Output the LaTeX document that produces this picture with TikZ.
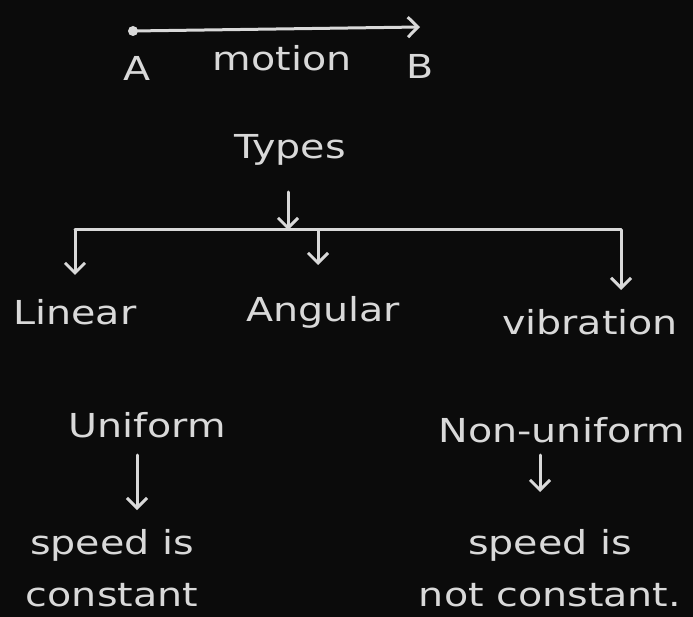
\documentclass[tikz,border=0pt]{standalone}
\usepackage{fontspec}
\newfontfamily\hand[FakeStretch=1.2]{DejaVu Sans}
\usetikzlibrary{arrows.meta}
\definecolor{bgc}{HTML}{0B0B0B}
\definecolor{chalkc}{HTML}{D9D9D9}
\begin{document}
\begin{tikzpicture}[x=1pt,y=-1pt,
  chalk/.style={draw=chalkc, line width=3pt, line cap=round},
  arr/.style={chalk, -{Straight Barb[length=10pt,width=20pt,line width=3pt]}},
  lbl/.style={text=chalkc, font=\hand\fontsize{33}{52}\selectfont, inner sep=1pt, align=center}]
\fill[bgc] (0,0) rectangle (693,617);
\useasboundingbox (0,0) rectangle (693,617);
% top arrow A -> B
\coordinate (a0) at (133,31);
\coordinate (b0) at (420,27);
\fill[chalkc] (a0) circle (5pt);
\draw[arr] (a0) -- (b0);
\node[lbl] (la) at (137,68) {A};
\node[lbl] (motion) at (282,58) {motion};
\node[lbl] (lb) at (420,66) {B};
% types
\node[lbl] (types) at (290,150) {Types};
\coordinate (barL) at (75,230);
\coordinate (barT) at (288,230);
\coordinate (barA) at (318,230);
\coordinate (barR) at (621,230);
\coordinate (tA) at (288,192);
\draw[arr] (tA) -- (barT);
\draw[chalk] (barL) -- (barR);
\node[lbl] (linear) at (75,312) {Linear};
\node[lbl] (angular) at (323,312) {Angular};
\node[lbl] (vib) at (590,322) {vibration};
\coordinate (lE) at (75,275);
\coordinate (aE) at (318,265);
\coordinate (vE) at (621,290);
\draw[arr] (barL) -- (lE);
\draw[arr] (barA) -- (aE);
\draw[arr] (barR) -- (vE);
% uniform
\node[lbl] (uni) at (147,425) {Uniform};
\node[lbl] (sp1) at (112,568) {speed is\\constant};
\node[lbl] (nonuni) at (562,430) {Non-uniform};
\node[lbl] (sp2) at (550,568) {speed is\\not constant.};
\coordinate (u1) at (137,455);
\coordinate (u2) at (137,510);
\coordinate (n1) at (540,455);
\coordinate (n2) at (540,492);
\draw[arr] (u1) -- (u2);
\draw[arr] (n1) -- (n2);
\end{tikzpicture}
\end{document}
